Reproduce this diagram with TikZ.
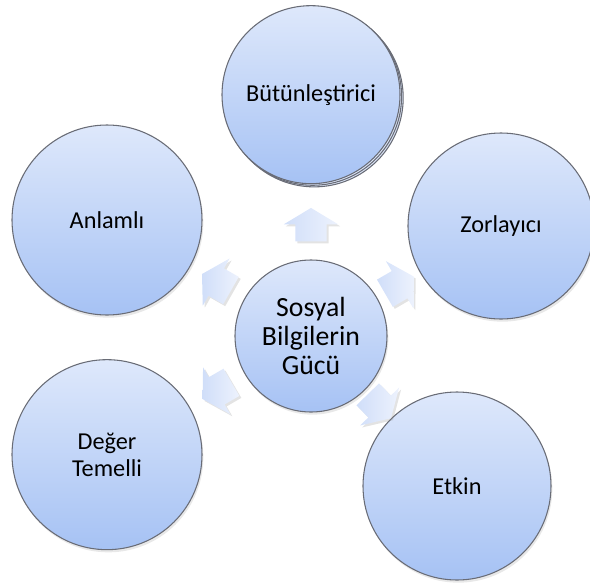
\documentclass[tikz,border=0pt]{standalone}
\usepackage{fontspec}
\setmainfont{Carlito}
\usepackage{tikz}
\usetikzlibrary{positioning,shapes.arrows,shadows,calc}

\definecolor{circtop}{RGB}{222,232,251}
\definecolor{circbot}{RGB}{166,194,244}
\definecolor{arrtop}{RGB}{237,242,253}
\definecolor{arrbot}{RGB}{208,222,249}
\definecolor{rim}{RGB}{105,108,118}

\begin{document}
\begin{tikzpicture}[on grid,
    bubble/.style={circle,draw=rim,line width=0.8pt,top color=circtop,bottom color=circbot,
      align=center,inner sep=0pt,font=\fontsize{18.2}{20.5}\selectfont,
      drop shadow={opacity=0.18,shadow xshift=1pt,shadow yshift=-2pt}},
    push/.style={single arrow,draw=none,left color=arrbot,right color=arrtop,
      text height=11.6pt,text depth=11.6pt,minimum height=25pt,
      single arrow head extend=8.6pt,single arrow tip angle=118,inner sep=0pt,
      drop shadow={opacity=0.22,shadow xshift=1.5pt,shadow yshift=-1.5pt}}]
  \useasboundingbox (-233.25pt,-188.25pt) rectangle (209.25pt,252pt);
  \node[bubble,minimum size=114pt,font=\fontsize{20.8}{21.5}\selectfont] (guc) {Sosyal\\Bilgilerin\\Gücü};
  \node[bubble,minimum size=133.5pt,
        double copy shadow={shadow xshift=1.2pt,shadow yshift=-1.2pt,draw=rim,fill=circtop}]
        (butun) [above=181pt of guc] {Bütünleştirici};
  \node[bubble,minimum size=142.5pt] (anlam) [above left=87pt and 153pt of guc] {Anlamlı};
  \node[bubble,minimum size=139.5pt] (zor) [above right=82.5pt and 142.5pt of guc] {Zorlayıcı};
  \node[bubble,minimum size=142.5pt] (deger) [below left=89pt and 153pt of guc] {Değer\\Temelli};
  \node[bubble,minimum size=141pt] (etkin) [below right=112.5pt and 109.5pt of guc] {Etkin};
  %% block arrows from the centre
  \node[push,rotate=90] (to_butun) at ($(guc)!80pt!(butun)$) {};
  \node[push,rotate=30.1] (to_zor) at ($(guc)!73pt!(zor)$) {};
  \node[push,rotate=-45.8] (to_etkin) at ($(guc)!70pt!(etkin)$) {};
  \node[push,rotate=210.2] (to_deger) at ($(guc)!78pt!(deger)$) {};
  \node[push,rotate=150.4] (to_anlam) at ($(guc)!78pt!(anlam)$) {};
\end{tikzpicture}
\end{document}
